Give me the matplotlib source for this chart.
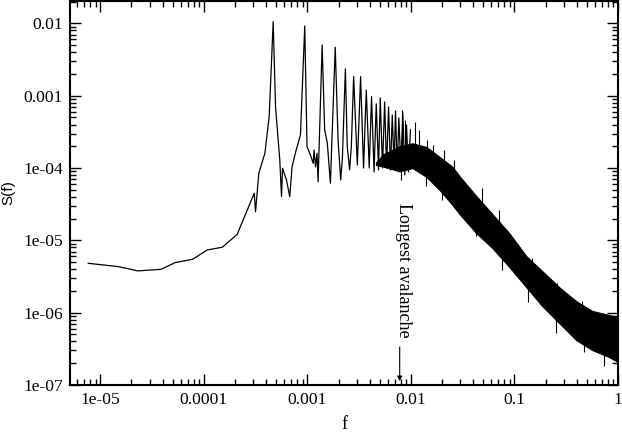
import numpy as np
import matplotlib
matplotlib.use("Agg")
import matplotlib.pyplot as plt
import matplotlib.ticker as ticker

# power spectrum, low frequency part + resolved harmonic peaks
freq = [7.66e-6, 1.50e-5, 2.31e-5, 3.87e-5, 5.28e-5, 7.81e-5, 1.08e-4, 1.51e-4,
        2.10e-4, 3.07e-4, 3.16e-4, 3.40e-4, 3.89e-4, 4.28e-4, 4.68e-4, 4.93e-4,
        5.42e-4, 5.63e-4, 5.76e-4, 6.29e-4, 6.76e-4, 7.12e-4, 7.73e-4, 8.58e-4,
        9.44e-4, 9.93e-4, 1.07e-3, 1.14e-3, 1.16e-3, 1.20e-3, 1.24e-3, 1.27e-3,
        1.39e-3, 1.47e-3, 1.56e-3, 1.67e-3, 1.86e-3, 1.98e-3, 2.10e-3, 2.18e-3,
        2.33e-3, 2.43e-3, 2.56e-3, 2.66e-3, 2.80e-3, 3.04e-3, 3.27e-3, 3.49e-3,
        3.71e-3, 3.96e-3, 4.17e-3, 4.41e-3, 4.63e-3, 4.87e-3, 5.06e-3, 5.32e-3,
        5.58e-3, 5.82e-3, 6.09e-3, 6.36e-3, 6.61e-3, 6.88e-3, 7.11e-3, 7.38e-3,
        7.65e-3, 8.00e-3, 8.36e-3, 8.74e-3, 9.07e-3, 9.48e-3, 9.91e-3]
power = [4.82e-6, 4.33e-6, 3.78e-6, 3.98e-6, 4.92e-6, 5.48e-6, 7.36e-6, 8.04e-6,
         1.21e-5, 4.48e-5, 2.49e-5, 8.47e-5, 1.60e-4, 5.14e-4, 1.06e-2, 7.06e-4,
         1.29e-4, 4.02e-5, 9.93e-5, 6.84e-5, 4.02e-5, 1.04e-4, 1.69e-4, 2.87e-4,
         9.23e-3, 1.98e-4, 1.52e-4, 1.16e-4, 1.78e-4, 1.04e-4, 1.60e-4, 6.49e-5,
         5.05e-3, 3.37e-4, 2.20e-4, 6.17e-5, 4.69e-3, 2.45e-4, 6.84e-5, 1.37e-4,
         2.35e-3, 1.98e-4, 9.42e-5, 1.98e-4, 1.84e-3, 1.10e-4, 1.84e-3, 1.00e-4,
         1.20e-3, 1.00e-4, 9.72e-4, 8.83e-5, 7.71e-4, 9.42e-5, 9.33e-4, 1.00e-4,
         8.20e-4, 1.00e-4, 7.00e-4, 9.42e-5, 5.42e-4, 1.10e-4, 6.17e-4, 9.42e-5,
         4.93e-4, 1.10e-4, 5.78e-4, 8.04e-5, 3.94e-4, 8.83e-5, 3.37e-4]

# dense high frequency part: upper / lower edge of the black band
band_f = [4.6e-3, 5.4e-3, 7.76e-3, 0.01035, 0.0141, 0.0189, 0.0252, 0.0294,
          0.0428, 0.0611, 0.0891, 0.130, 0.185, 0.270, 0.394, 0.562, 0.819, 1.0]
band_hi = [1.2e-4, 1.55e-4, 2.0e-4, 2.2e-4, 1.96e-4, 1.43e-4, 1.04e-4, 7.78e-5,
           4.11e-5, 2.32e-5, 1.26e-5, 6.08e-6, 3.78e-6, 2.26e-6, 1.45e-6, 1.06e-6,
           9.29e-7, 8.73e-7]
band_lo = [1.1e-4, 1.05e-4, 9.0e-5, 1.00e-4, 7.54e-5, 4.98e-5, 3.09e-5, 2.32e-5,
           1.26e-5, 7.85e-6, 4.29e-6, 2.26e-6, 1.24e-6, 7.21e-7, 4.19e-7, 3.05e-7,
           2.44e-7, 2.08e-7]

# single spikes sticking out of the band
spike_f = [8.30e-3, 8.87e-3, 0.01084, 0.01211, 0.01445, 0.01652, 0.0211, 0.0263,
           0.0367, 0.0490, 0.0714, 0.148, 0.258, 0.450,
           8.11e-3, 0.0141, 0.0201, 0.0425, 0.0767, 0.134, 0.251, 0.470, 0.733]
spike_hi = [6.37e-4, 4.62e-4, 4.35e-4, 3.37e-4, 2.45e-4, 2.09e-4, 1.78e-4, 1.29e-4,
            5.31e-5, 5.31e-5, 2.63e-5, 5.72e-6, 2.58e-6, 1.45e-6,
            1.78e-4, 1.10e-4, 8.04e-5, 2.63e-5, 7.36e-6, 2.83e-6, 1.09e-6, 4.92e-7, 3.57e-7]
spike_lo = [1.29e-4, 1.10e-4, 1.10e-4, 9.42e-5, 8.04e-5, 6.84e-5, 4.98e-5, 3.62e-5,
            2.24e-5, 1.39e-5, 8.62e-6, 2.83e-6, 1.09e-6, 5.77e-7,
            6.84e-5, 5.65e-5, 3.62e-5, 1.15e-5, 3.90e-6, 1.41e-6, 5.24e-7, 2.86e-7, 1.83e-7]

xticks = [1e-5, 1e-4, 1e-3, 1e-2, 1e-1, 1]
xlabels = ['1e-05', '0.0001', '0.001', '0.01', '0.1', '1']
yticks = [1e-7, 1e-6, 1e-5, 1e-4, 1e-3, 1e-2]
ylabels = ['1e-07', '1e-06', '1e-05', '1e-04', '0.001', '0.01']

longest_f = 0.0078  # where the arrow points

serif = 'Liberation Serif'
fig = plt.figure(figsize=(6.22, 4.36), dpi=100)
ax = fig.add_axes([0.1125, 0.117, 0.881, 0.881])

ax.fill_between(band_f, band_lo, band_hi, color='black', lw=0.8)
ax.vlines(spike_f, spike_lo, spike_hi, color='black', lw=0.8)
ax.plot(freq, power, color='black', lw=0.9)

ax.set_xscale('log')
ax.set_yscale('log')
ax.set_xlim(5.1e-6, 1)
ax.set_ylim(1e-7, 0.0205)

ax.xaxis.set_major_locator(ticker.FixedLocator(xticks))
ax.xaxis.set_major_formatter(ticker.FixedFormatter(xlabels))
ax.yaxis.set_major_locator(ticker.FixedLocator(yticks))
ax.yaxis.set_major_formatter(ticker.FixedFormatter(ylabels))
ax.xaxis.set_minor_locator(ticker.LogLocator(base=10, subs=np.arange(2, 10)))
ax.yaxis.set_minor_locator(ticker.LogLocator(base=10, subs=np.arange(2, 10)))
ax.xaxis.set_minor_formatter(ticker.NullFormatter())
ax.yaxis.set_minor_formatter(ticker.NullFormatter())

ax.tick_params(which='both', direction='in', top=True, right=True, width=1.0)
ax.tick_params(which='major', length=8, labelsize=12.6, pad=5)
ax.tick_params(which='minor', length=4)
for lab in ax.get_xticklabels() + ax.get_yticklabels():
    lab.set_family(serif)
for sp in ax.spines.values():
    sp.set_linewidth(1.5)

ax.set_xlabel('f', family=serif, fontsize=13, labelpad=6)
ax.set_ylabel('S(f)', family='Liberation Sans', fontsize=11, labelpad=6)

ax.text(8.5e-3, 3.29e-5, 'Longest avalanche', rotation=270, ha='center', va='top',
        family=serif, fontsize=13)
ax.annotate('', xy=(longest_f, 1.13e-7), xytext=(longest_f, 3.36e-7),
            arrowprops=dict(arrowstyle='-|>', color='black', lw=0.8,
                            mutation_scale=7, shrinkA=0, shrinkB=0))

fig.savefig('out.png', dpi=100)
